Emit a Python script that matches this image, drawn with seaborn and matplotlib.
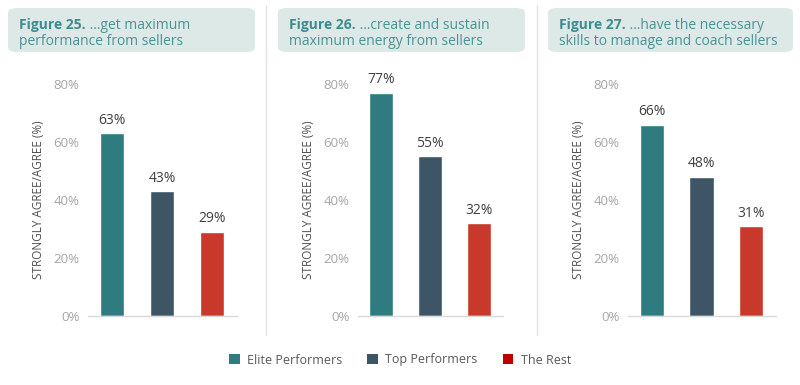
import matplotlib
matplotlib.use("Agg")
import matplotlib.pyplot as plt
import seaborn as sns
import pandas as pd
from matplotlib.patches import FancyBboxPatch, Patch
from matplotlib.lines import Line2D

# Data
groups = ["Elite Performers", "Top Performers", "The Rest"]
fig_numbers = ["Figure 25.", "Figure 26.", "Figure 27."]
title_line1 = [" \u2026get maximum", " \u2026create and sustain", " \u2026have the necessary"]
title_line2 = ["performance from sellers", "maximum energy from sellers", "skills to manage and coach sellers"]
fig25_values = [63, 43, 29]
fig26_values = [77, 55, 32]
fig27_values = [66, 48, 31]
panel_values = [fig25_values, fig26_values, fig27_values]
y_ticks = [0, 20, 40, 60, 80]
y_label = "STRONGLY AGREE/AGREE (%)"

colors = ["#2E7B80", "#3E5566", "#C8392B"]
legend_colors = ["#2E7B80", "#3E5566", "#C00000"]

sns.set_style("white")
plt.rcParams["font.family"] = ["Open Sans", "DejaVu Sans"]

W, H = 800, 385
fig = plt.figure(figsize=(8, 3.85), dpi=100)

# axes placements in pixels: left, right
axes_px = [(88, 237), (358, 503), (628, 776)]
box_px = [(8, 255), (278, 525), (548, 793)]
y0_px, y80_px = 316, 84

for i, vals in enumerate(panel_values):
    l, r = axes_px[i]
    ax = fig.add_axes([l / W, (H - y0_px) / H, (r - l) / W, (y0_px - y80_px) / H])
    df = pd.DataFrame({"group": groups, "value": vals})
    sns.barplot(data=df, x="group", y="value", hue="group", palette=colors,
                width=0.49, legend=False, ax=ax, saturation=1)
    ax.set_xlim(-0.48, 2.5)
    ax.set_ylim(0, 80)
    ax.set_yticks(y_ticks)
    ax.set_yticklabels([f"{t}%" for t in y_ticks], color="#A6A6A6", fontsize=9.5)
    ax.set_xticks([])
    ax.set_xlabel("")
    ax.set_ylabel(y_label, color="#505050", fontsize=8.5, labelpad=6)
    ax.tick_params(axis="y", length=0, pad=6)
    for s in ["top", "right", "left"]:
        ax.spines[s].set_visible(False)
    ax.spines["bottom"].set_color("#D9D9D9")
    ax.spines["bottom"].set_linewidth(1)
    for c in ax.containers:
        ax.bar_label(c, fmt="%d%%", padding=4, color="#404040", fontsize=10)

    # title box
    bl, br = box_px[i]
    box = FancyBboxPatch((bl / W, (H - 52) / H), (br - bl) / W, 44 / H,
                         boxstyle="round,pad=0,rounding_size=0.012",
                         transform=fig.transFigure, facecolor="#DDE9E7",
                         edgecolor="none", zorder=0)
    fig.patches.append(box)
    t1 = fig.text((bl + 11) / W, (H - 29) / H, fig_numbers[i], color="#3F8C90",
                  fontsize=10, fontweight="bold", va="baseline")
    fig.canvas.draw()
    bb = t1.get_window_extent()
    fig.text(bb.x1 / W, (H - 29) / H, title_line1[i], color="#4A9296",
             fontsize=10, va="baseline")
    fig.text((bl + 11) / W, (H - 45) / H, title_line2[i], color="#4A9296",
             fontsize=10, va="baseline")

# divider lines
for x in [266, 537]:
    fig.add_artist(Line2D([x / W, x / W], [(H - 5) / H, (H - 335) / H],
                          color="#E3E3E3", lw=1, transform=fig.transFigure))

handles = [Patch(facecolor=c, edgecolor="none") for c in legend_colors]
fig.legend(handles, groups, loc="center", bbox_to_anchor=(0.5, (H - 360) / H),
           ncol=3, frameon=False, fontsize=9, handlelength=0.85, handleheight=0.85,
           columnspacing=2.0, handletextpad=0.6, labelcolor="#595959")

fig.savefig("out.png", dpi=100)
